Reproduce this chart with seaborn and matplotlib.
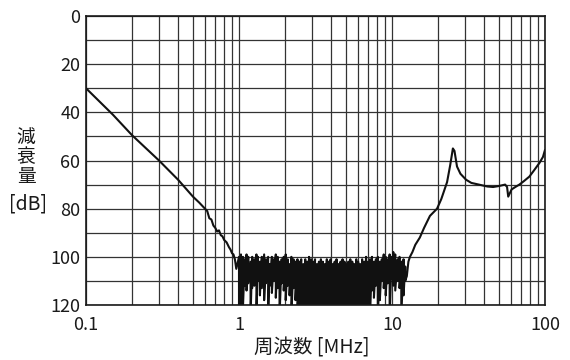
import numpy as np
import pandas as pd
import matplotlib
matplotlib.use("Agg")
import matplotlib.pyplot as plt
from matplotlib.ticker import LogLocator, FixedLocator, NullFormatter
import seaborn as sns

# smooth low-frequency slope [MHz], [dB]
freq_low = [0.1, 0.15, 0.2, 0.3, 0.4, 0.5, 0.55, 0.6, 0.62, 0.64, 0.66, 0.68, 0.70,
            0.72, 0.74, 0.76, 0.78, 0.80, 0.83, 0.86, 0.88, 0.90, 0.92, 0.94, 0.96]
att_low = [30, 41, 49.5, 60, 68, 75, 77.5, 80, 81, 84, 84.5, 87, 88,
           89.5, 89, 91, 91.5, 93, 94, 96, 97, 98.5, 99, 101, 105]

# noisy floor 1..12 MHz: top and bottom of each spike
freq_noise = [1.00, 1.03, 1.06, 1.09, 1.12, 1.15, 1.19, 1.22, 1.26, 1.30,
              1.33, 1.37, 1.41, 1.46, 1.50, 1.55, 1.59, 1.64, 1.69, 1.74,
              1.79, 1.84, 1.90, 1.96, 2.02, 2.08, 2.14, 2.20, 2.27, 2.34,
              2.41, 2.48, 2.55, 2.63, 2.71, 2.79, 2.87, 2.96, 3.05, 3.14,
              3.23, 3.33, 3.43, 3.53, 3.64, 3.75, 3.86, 3.97, 4.09, 4.22,
              4.34, 4.47, 4.61, 4.75, 4.89, 5.03, 5.19, 5.34, 5.50, 5.67,
              5.84, 6.01, 6.19, 6.38, 6.57, 6.77, 6.97, 7.18, 7.40, 7.62,
              7.85, 8.08, 8.33, 8.58, 8.83, 9.10, 9.37, 9.65, 9.94, 10.2,
              10.5, 10.9, 11.2, 11.5, 11.9, 12.2]
noise_top = [100, 99, 100, 101, 99, 100, 102, 100, 101, 99,
             100, 102, 100, 99, 101, 100, 103, 100, 101, 99,
             100, 102, 101, 100, 99, 101, 103, 100, 101, 102,
             101, 102, 101, 103, 101, 102, 100, 101, 102, 101,
             103, 102, 101, 102, 103, 101, 102, 101, 103, 102,
             101, 103, 102, 101, 102, 103, 102, 101, 102, 103,
             101, 102, 103, 101, 102, 100, 102, 101, 100, 102,
             101, 100, 102, 101, 99, 100, 101, 99, 100, 98,
             99, 101, 100, 102, 101, 104]
noise_bottom = [125, 125, 122, 112, 114, 111, 125, 113, 112, 125,
                110, 116, 113, 118, 111, 125, 112, 115, 110, 117,
                113, 125, 111, 114, 118, 112, 116, 125, 113, 118,
                125, 125, 125, 125, 125, 125, 125, 125, 125, 125,
                125, 125, 125, 125, 125, 125, 125, 125, 125, 125,
                125, 125, 125, 125, 125, 125, 125, 125, 125, 125,
                125, 125, 125, 125, 125, 125, 125, 125, 114, 117,
                112, 125, 118, 110, 113, 116, 111, 125, 109, 112,
                114, 110, 113, 125, 116, 110]

# resonance region above 12 MHz
freq_high = [12.5, 12.8, 13.1, 13.6, 14.2, 15.2, 16.2, 17.7, 19.7, 21.0, 22.9, 24.0,
             25.0, 25.6, 26.6, 28.0, 30.5, 33.0, 37.0, 42.0, 45.8, 50.0, 54.9, 56.5,
             57.5, 58.5, 60.5, 64.0, 68.0, 73.0, 79.0, 85.0, 92.0, 97.0, 100.0]
att_high = [108, 102, 100, 98, 95, 92, 88, 83, 80, 76, 69, 62,
            55, 56, 62.5, 65.5, 68, 69.3, 70, 70.8, 71, 70.6, 70, 71,
            75, 74, 72, 71, 70, 68.5, 66.7, 64, 61, 58.5, 55.6]

y_ticks = [0, 20, 40, 60, 80, 100, 120]

# spikes: top -> bottom at each frequency
nf = np.repeat(freq_noise, 2)
na = np.column_stack([noise_top, noise_bottom]).ravel()

df = pd.DataFrame({
    "f": np.concatenate([freq_low, nf, freq_high]),
    "a": np.concatenate([att_low, na, att_high]),
})

sns.set_theme(style="white")
plt.rcParams['font.family'] = ['Noto Sans CJK JP', 'DejaVu Sans']

fig = plt.figure(figsize=(5.7, 3.6), dpi=100)
ax = fig.add_axes([86/570, 1-305/360, 459/570, 289/360])

sns.lineplot(data=df, x="f", y="a", sort=False, estimator=None,
             color="#111111", linewidth=1.5, ax=ax)

ax.set_xscale("log")
ax.set_xlim(0.1, 100)
ax.set_ylim(120, 0)

ax.xaxis.set_major_locator(FixedLocator([0.1, 1, 10, 100]))
ax.xaxis.set_minor_locator(LogLocator(base=10, subs=np.arange(2, 10)))
ax.xaxis.set_minor_formatter(NullFormatter())
ax.set_xticklabels(["0.1", "1", "10", "100"])
ax.yaxis.set_major_locator(FixedLocator(y_ticks))
ax.yaxis.set_minor_locator(FixedLocator([10, 30, 50, 70, 90, 110]))

ax.grid(which="both", color="#333333", linewidth=0.9)
ax.tick_params(which="both", length=0, labelsize=13, colors="#1a1a1a")
ax.tick_params(axis="x", pad=8)
ax.tick_params(axis="y", pad=4)
for s in ax.spines.values():
    s.set_color("#1a1a1a")
    s.set_linewidth(1.2)

ax.set_xlabel("")
ax.set_ylabel("")

fig.text(312/570, 1-348/360, "周波数 [MHz]", ha="center", va="center",
         fontsize=14, color="#1a1a1a")
fig.text(26/570, 1-157/360, "減\n衰\n量", ha="center", va="center",
         fontsize=13.5, linespacing=0.88, color="#1a1a1a")
fig.text(28/570, 1-204/360, "[dB]", ha="center", va="center",
         fontsize=14, color="#1a1a1a")

plt.savefig("out.png", dpi=100)
